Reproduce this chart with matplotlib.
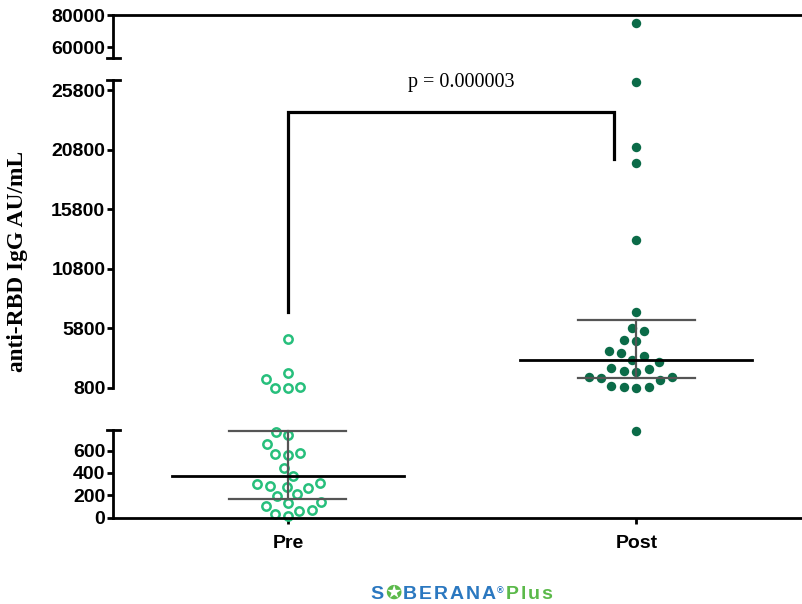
import numpy as np
import matplotlib
matplotlib.use("Agg")
import matplotlib.pyplot as plt
from matplotlib.lines import Line2D

# ---------------- data ----------------
groups = ["Pre", "Post"]
pre_values = [4890, 2030, 1555, 910, 820, 815,
              770, 741, 660, 561, 576, 572, 446, 374, 311, 284, 261, 275,
              300, 207, 194, 140, 131, 102, 59, 66, 27, 12]
post_values = [75190, 26500, 21040, 19700, 13220, 7150, 5610, 5810, 4770,
               4830, 3710, 3930, 3485, 3010, 3150, 2395, 2170, 2225, 2450,
               1695, 1610, 1470, 1695, 970, 855, 810, 910, 779]
medians = [374, 3150]
q1 = [165, 1660]
q3 = [779, 6480]
p_label = "p = 0.000003"
bracket_left_bottom = 7176
bracket_top = 23955
bracket_right_bottom = 20011
bracket_right_x = 1.937
segments = [(0, 786), (800, 26640), (53125, 80000)]
seg_ticks = [[0, 200, 400, 600],
             [800, 5800, 10800, 15800, 20800, 25800],
             [60000, 80000]]
ylabel = "anti-RBD IgG AU/mL"

# ---------------- layout ----------------
W, H = 803, 604
fig = plt.figure(figsize=(W / 100, H / 100), dpi=100)
LEFT, RIGHT = 113, 808
seg_px = [(430, 517.5), (80, 388), (15, 58)]  # (top, bottom) pixel rows
axes = []
for (top, bot) in seg_px:
    ax = fig.add_axes([LEFT / W, (H - bot) / H, (RIGHT - LEFT) / W, (bot - top) / H])
    axes.append(ax)

xlim = (0.498, 2.4925)
tick_font = dict(family="Liberation Sans", weight="bold", size=14)
for i, ax in enumerate(axes):
    ax.set_xlim(*xlim)
    ax.set_ylim(*segments[i])
    ax.set_facecolor("none")
    for s in ["top", "right", "bottom", "left"]:
        ax.spines[s].set_visible(False)
    ax.spines["left"].set_visible(True)
    ax.spines["left"].set_linewidth(2)
    ax.set_yticks(seg_ticks[i])
    ax.set_yticklabels([str(t) for t in seg_ticks[i]], **tick_font)
    ax.tick_params(axis="y", direction="out", length=4.5, width=2, pad=1)
    ax.set_xticks([])
axes[2].spines["top"].set_visible(True)
axes[2].spines["top"].set_linewidth(2)
axes[0].spines["bottom"].set_visible(True)
axes[0].spines["bottom"].set_linewidth(2)
axes[0].set_xticks([1, 2])
axes[0].set_xticklabels(groups, **tick_font)
axes[0].tick_params(axis="x", direction="out", length=4, width=2, pad=8.5)

# break caps
for ypx in [430, 80, 58]:
    fig.add_artist(Line2D([107 / W, 120 / W], [(H - ypx) / H] * 2,
                          transform=fig.transFigure, color="black", lw=2))

def seg_index(v):
    for i, (lo, hi) in enumerate(segments):
        if lo <= v <= hi:
            return i
    return 1

# ---------------- swarm layout in pixel space ----------------
def swarm(ypix, d):
    order = np.argsort(ypix)
    xs = np.zeros(len(ypix))
    placed = []
    for i in order:
        y = ypix[i]
        nb = [(xs[j], ypix[j]) for j in placed if abs(ypix[j] - y) < d]
        cands = [0.0]
        for xj, yj in nb:
            dx = np.sqrt(d * d - (yj - y) ** 2)
            cands += [xj + dx, xj - dx]
        cands = sorted(cands, key=lambda c: (round(abs(c), 6), c))
        for c in cands:
            if all((c - xj) ** 2 + (y - yj) ** 2 >= d * d - 1e-6 for xj, yj in nb):
                xs[i] = c
                break
        placed.append(i)
    return xs

ax0 = axes[0]
px_per_x = ax0.transData.transform((1, 0))[0] - ax0.transData.transform((0, 0))[0]

styles = [
    dict(marker="o", ms=6.0, mfc="white", mec="#27bf7c", mew=1.8, ls="none"),
    dict(marker="o", ms=6.8, mfc="#0b6b48", mec="#0b6b48", mew=0, ls="none"),
]
for gi, vals in enumerate([pre_values, post_values]):
    vals = np.array(vals, dtype=float)
    segs = [seg_index(v) for v in vals]
    ypix = np.array([axes[s].transData.transform((0, v))[1] for s, v in zip(segs, vals)])
    offs = swarm(ypix, 12.6) / px_per_x
    for s, v, o in zip(segs, vals, offs):
        axes[s].plot([gi + 1 + o], [v], zorder=2, clip_on=False, **styles[gi])

# medians and IQR bars
half_med = 116 / px_per_x
half_cap = 58.5 / px_per_x
for gi in range(2):
    x = gi + 1
    sm = seg_index(medians[gi])
    axes[sm].plot([x - half_med, x + half_med], [medians[gi]] * 2, color="black", lw=2, zorder=4)
    se = seg_index(q3[gi])
    ax = axes[se]
    ax.plot([x, x], [q1[gi], q3[gi]], color="#555555", lw=1.6, zorder=3, clip_on=False)
    for q in (q1[gi], q3[gi]):
        ax.plot([x - half_cap, x + half_cap], [q, q], color="#555555", lw=1.6, zorder=3, clip_on=False)

# significance bracket
axm = axes[1]
axm.plot([1, 1, bracket_right_x, bracket_right_x],
         [bracket_left_bottom, bracket_top, bracket_top, bracket_right_bottom],
         color="black", lw=2.3, solid_joinstyle="miter", zorder=3)
axm.text(1.496, 26390, p_label, ha="center", va="center",
         family="Liberation Serif", fontsize=14.5)

# y label
fig.text(18 / W, 1 - 261.5 / H, ylabel, rotation=90, ha="center", va="center",
         family="Liberation Serif", weight="bold", fontsize=16.8)

# logo
blue, green = "#2b78c0", "#5bb94a"
fs = 14
pieces = [("S", blue, fs, 0), ("\u272A", green, fs, 0), ("B", blue, fs, 0),
          ("E", blue, fs, 0), ("R", blue, fs, 0), ("A", blue, fs, 0),
          ("N", blue, fs, 0), ("A", blue, fs, 0), ("\u00AE", blue, 6.5, 6),
          ("P", green, fs, 0), ("l", green, fs, 0), ("u", green, fs, 0),
          ("s", green, fs, 0)]
fig.canvas.draw()
renderer = fig.canvas.get_renderer()
xcur = 370
base = 599
for ch, col, f, rise in pieces:
    t = fig.text(xcur / W, (H - base + rise) / H, ch, color=col, fontsize=f,
                 weight="bold", family=["Liberation Sans", "DejaVu Sans"],
                 ha="left", va="baseline")
    bb = t.get_window_extent(renderer=renderer)
    xcur += bb.width + 1.8

fig.savefig("out.png", dpi=100)
